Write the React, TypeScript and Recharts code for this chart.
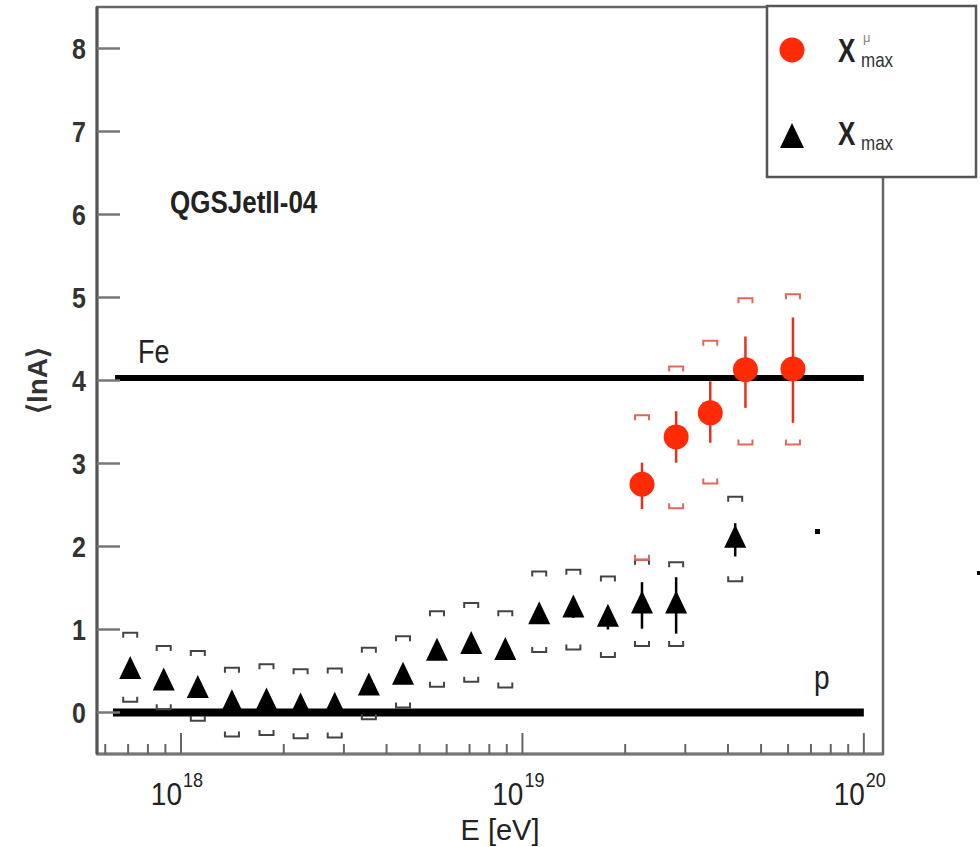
import { ScatterChart, Scatter, XAxis, YAxis, ErrorBar, ReferenceLine, ReferenceArea } from 'recharts';

// <lnA> from Xmax (black triangles), one entry per energy bin
const energyXmax = [
  7.1e17, 8.9e17, 1.12e18, 1.41e18, 1.78e18, 2.24e18, 2.82e18, 3.55e18, 4.47e18,
  5.62e18, 7.08e18, 8.91e18, 1.12e19, 1.41e19, 1.78e19, 2.24e19, 2.82e19, 4.2e19,
];
const lnAXmax = [0.5, 0.36, 0.27, 0.1, 0.12, 0.06, 0.07, 0.3, 0.43, 0.72, 0.8, 0.73, 1.16, 1.24, 1.13, 1.29, 1.29, 2.08];
const statXmax = [0.04, 0.04, 0.04, 0.04, 0.04, 0.04, 0.04, 0.05, 0.05, 0.06, 0.07, 0.07, 0.09, 0.1, 0.13, 0.28, 0.34, 0.2];
const sysHiXmax = [0.96, 0.8, 0.74, 0.54, 0.58, 0.52, 0.53, 0.78, 0.92, 1.22, 1.32, 1.22, 1.7, 1.72, 1.64, 1.84, 1.81, 2.6];
const sysLoXmax = [0.13, 0.04, -0.1, -0.29, -0.27, -0.31, -0.3, -0.08, 0.06, 0.31, 0.37, 0.3, 0.73, 0.76, 0.67, 0.8, 0.8, 1.58];

// <lnA> from Xmax^mu (red circles)
const energyMu = [2.24e19, 2.82e19, 3.55e19, 4.5e19, 6.2e19];
const lnAMu = [2.75, 3.32, 3.61, 4.13, 4.14];
const statLoMu = [0.3, 0.31, 0.36, 0.46, 0.65];
const statHiMu = [0.26, 0.31, 0.38, 0.4, 0.62];
const sysHiMu = [3.58, 4.17, 4.48, 4.99, 5.04];
const sysLoMu = [1.84, 2.46, 2.76, 3.23, 3.23];

const lnAFe = 4.03;
const lnAp = 0;
const lineStartFe = 6.41e17;
const lineStartP = 6.32e17;
const lineEnd = 1e20;

const xDomain = [5.675e17, 1.138e20];
const yDomain = [-0.5, 8.5];
const xMajorTicks = [1e18, 1e19, 1e20];
const xMinorTicks = [
  6e17, 7e17, 8e17, 9e17,
  2e18, 3e18, 4e18, 5e18, 6e18, 7e18, 8e18, 9e18,
  2e19, 3e19, 4e19, 5e19, 6e19, 7e19, 8e19, 9e19,
];
const xTicks = [...xMinorTicks, ...xMajorTicks].sort((a, b) => a - b);
const yTicks = [0, 1, 2, 3, 4, 5, 6, 7, 8];

const FONT = '"Liberation Sans", Arial, sans-serif';
const RED = '#ff2a06';
const RED_SYS = '#e2665c';

const xmaxData = energyXmax.map((x, i) => ({ x, y: lnAXmax[i], err: [statXmax[i], statXmax[i]] }));
const xmaxHi = energyXmax.map((x, i) => ({ x, y: sysHiXmax[i] }));
const xmaxLo = energyXmax.map((x, i) => ({ x, y: sysLoXmax[i] }));
const muData = energyMu.map((x, i) => ({ x, y: lnAMu[i], err: [statLoMu[i], statHiMu[i]] }));
const muHi = energyMu.map((x, i) => ({ x, y: sysHiMu[i] }));
const muLo = energyMu.map((x, i) => ({ x, y: sysLoMu[i] }));

function Txt({ x, y, sx = 1, sy = 1, children, ...rest }: any) {
  return (
    <text transform={`translate(${x},${y}) scale(${sx},${sy})`} fontFamily={FONT} {...rest}>
      {children}
    </text>
  );
}

function XTick({ x, y, payload }: any) {
  const v = payload.value;
  const major = xMajorTicks.includes(v);
  const exp = Math.round(Math.log10(v));
  return (
    <g>
      <line x1={x} y1={y} x2={x} y2={y - (major ? 21 : 10)} stroke="#666" strokeWidth={2} />
      {major && (
        <>
          <Txt x={x + 1} y={y + 51} sy={1.15} fontSize={28} textAnchor="end" fill="#222">10</Txt>
          <Txt x={x + 2} y={y + 33} sy={1.15} fontSize={18} textAnchor="start" fill="#222">{exp}</Txt>
        </>
      )}
    </g>
  );
}

function YTick({ x, y, payload }: any) {
  return (
    <g>
      <line x1={x} y1={y} x2={x + 23} y2={y} stroke="#777" strokeWidth={2.5} />
      <Txt x={x - 11} y={y + 10} sy={1.15} fontSize={25} fontWeight="bold" textAnchor="end" fill="#333">
        {payload.value}
      </Txt>
    </g>
  );
}

function Triangle({ cx, cy, fill = '#000' }: any) {
  return <polygon points={`${cx},${cy - 15} ${cx - 11},${cy + 8} ${cx + 11},${cy + 8}`} fill={fill} />;
}

function RedDot({ cx, cy }: any) {
  return <circle cx={cx} cy={cy} r={12.5} fill={RED} />;
}

// upper systematic bracket: bar on top, legs pointing down; lower: legs pointing up
const bracket = (upper: boolean, color: string) => ({ cx, cy }: any) => (
  <path
    d={`M${cx - 7},${cy + (upper ? 5 : -5)} V${cy} H${cx + 7} V${cy + (upper ? 5 : -5)}`}
    fill="none"
    stroke={color}
    strokeWidth={2}
  />
);

function XTitle({ viewBox }: any) {
  const vb = viewBox || { x: 97, y: 754, width: 786 };
  return (
    <Txt x={vb.x + vb.width / 2 + 10} y={vb.y + 86} fontSize={29} textAnchor="middle" fill="#222">
      E [eV]
    </Txt>
  );
}

function YTitle({ viewBox }: any) {
  const vb = viewBox || { x: 0, y: 7, height: 747 };
  const cy = vb.y + vb.height / 2;
  return (
    <text x={0} y={0} transform={`translate(47,${cy}) rotate(-90)`} fontFamily={FONT} fontSize={28} fontWeight="bold" textAnchor="middle" fill="#333">
      ⟨lnA⟩
    </text>
  );
}

function Overlay() {
  return (
    <svg width={980} height={847} style={{ position: 'absolute', left: 0, top: 0, pointerEvents: 'none' }}>
      <Txt x={170} y={213} sy={1.2} fontSize={26} fontWeight="bold" fill="#222">QGSJetII-04</Txt>
      <Txt x={138} y={363} sy={1.2} fontSize={27} fill="#222">Fe</Txt>
      <Txt x={814} y={689} sy={1.2} fontSize={28} fill="#222">p</Txt>
      <rect x={815} y={529} width={5} height={5} fill="#000" />
      <rect x={977} y={571} width={3} height={4} fill="#000" />
      {/* legend box */}
      <rect x={767} y={6} width={209} height={171} fill="#fff" stroke="#555" strokeWidth={2.5} />
      <circle cx={792} cy={50} r={12.5} fill={RED} />
      <Txt x={838} y={62} sy={1.3} fontSize={26} fontWeight="bold" fill="#222">X</Txt>
      <Txt x={863} y={42} fontSize={13} fill="#888">μ</Txt>
      <Txt x={861} y={67} sy={1.2} fontSize={17} fill="#333">max</Txt>
      <polygon points="792,123 780,148 804,148" fill="#000" />
      <Txt x={838} y={145} sy={1.3} fontSize={26} fontWeight="bold" fill="#222">X</Txt>
      <Txt x={861} y={150} sy={1.2} fontSize={17} fill="#333">max</Txt>
    </svg>
  );
}

export default function App() {
  return (
    <div style={{ position: 'absolute', left: 0, top: 0, width: 980, height: 847, background: '#fff' }}>
      <ScatterChart width={980} height={847} margin={{ top: 7, right: 97, bottom: 0, left: 0 }}>
        <ReferenceArea
          x1={xDomain[0]}
          x2={xDomain[1]}
          y1={yDomain[0]}
          y2={yDomain[1]}
          fill="none"
          stroke="#666"
          strokeWidth={2.5}
          ifOverflow="visible"
        />
        <XAxis
          type="number"
          dataKey="x"
          scale="log"
          domain={xDomain}
          allowDataOverflow
          ticks={xTicks}
          interval={0}
          tick={(p: any) => <XTick {...p} />}
          tickLine={false}
          tickSize={0}
          tickMargin={0}
          height={93}
          axisLine={{ stroke: '#777', strokeWidth: 3 }}
          label={<XTitle />}
        />
        <YAxis
          type="number"
          dataKey="y"
          domain={yDomain}
          allowDataOverflow
          ticks={yTicks}
          interval={0}
          tick={(p: any) => <YTick {...p} />}
          tickLine={false}
          tickSize={0}
          tickMargin={0}
          width={97}
          axisLine={{ stroke: '#555', strokeWidth: 3 }}
          label={<YTitle />}
        />
        <ReferenceLine
          segment={[{ x: lineStartFe, y: lnAFe }, { x: lineEnd, y: lnAFe }]}
          stroke="#000"
          strokeWidth={6}
          ifOverflow="visible"
        />
        <ReferenceLine
          segment={[{ x: lineStartP, y: lnAp }, { x: lineEnd, y: lnAp }]}
          stroke="#000"
          strokeWidth={8}
          ifOverflow="visible"
        />
        <Scatter data={xmaxHi} shape={bracket(true, '#444')} isAnimationActive={false} />
        <Scatter data={xmaxLo} shape={bracket(false, '#444')} isAnimationActive={false} />
        <Scatter data={muHi} shape={bracket(true, RED_SYS)} isAnimationActive={false} />
        <Scatter data={muLo} shape={bracket(false, RED_SYS)} isAnimationActive={false} />
        <Scatter data={xmaxData} shape={<Triangle />} isAnimationActive={false}>
          <ErrorBar dataKey="err" direction="y" width={0} stroke="#000" strokeWidth={2.5} />
        </Scatter>
        <Scatter data={muData} shape={<RedDot />} isAnimationActive={false}>
          <ErrorBar dataKey="err" direction="y" width={0} stroke="#e3321e" strokeWidth={2.5} />
        </Scatter>
      </ScatterChart>
      <Overlay />
    </div>
  );
}
